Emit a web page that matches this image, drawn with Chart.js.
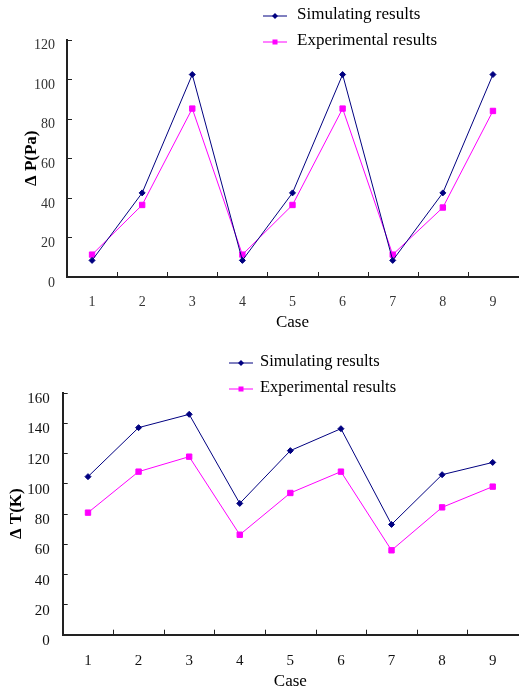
<!DOCTYPE html>
<html>
<head>
<meta charset="utf-8">
<script src="https://cdn.jsdelivr.net/npm/chart.js@4"></script>
<style>
  body { margin: 0; background: #fff; }
  #wrap { position: relative; width: 523px; height: 692px; overflow: hidden; }
  .box { position: absolute; left: 0; width: 523px; }
  .legend { position: absolute; font-family: 'Liberation Serif', 'Times New Roman', serif; color: #000; }
  .legend .item { position: absolute; left: 0; height: 20px; white-space: nowrap; display: flex; align-items: center; }
  .legend .item span { position: relative; top: -2px; }
</style>
</head>
<body>
<div id="wrap">
  <div class="box" style="top:0;height:335px"><canvas id="pressure" width="523" height="335"></canvas></div>
  <div class="legend" id="legend1" style="left:263px;top:0;font-size:17px"></div>
  <div class="box" style="top:340px;height:352px"><canvas id="temperature" width="523" height="352"></canvas></div>
  <div class="legend" id="legend2" style="left:229px;top:340px;font-size:16.5px"></div>
</div>
<script>
const NAVY = '#000080';
const MAGENTA = '#ff00ff';
const SERIF = "'Liberation Serif', 'Times New Roman', serif";

const cases = ['1', '2', '3', '4', '5', '6', '7', '8', '9'];

const pressureSim = [8.4, 42.5, 102.3, 8.4, 42.5, 102.3, 8.4, 42.5, 102.3];
const pressureExp = [11.3, 36.4, 85.1, 11.3, 36.4, 85.1, 11.3, 35.1, 83.9];
const pressureTicks = [0, 20, 40, 60, 80, 100, 120];

const tempSim = [104.5, 136.9, 145.7, 86.8, 121.7, 136.2, 72.9, 105.8, 113.9];
const tempExp = [80.7, 107.8, 117.7, 66.1, 93.7, 107.8, 55.8, 84.2, 97.9];
const tempTicks = [0, 20, 40, 60, 80, 100, 120, 140, 160];

// small tick marks pointing into the plot
const innerTicks = {
  id: 'innerTicks',
  afterDraw(chart) {
    const { ctx, chartArea: a, scales: { x, y } } = chart;
    ctx.save();
    ctx.strokeStyle = '#222';
    ctx.lineWidth = 1;
    ctx.beginPath();
    y.ticks.forEach((t, i) => {
      const py = Math.round(y.getPixelForTick(i)) + 0.5;
      ctx.moveTo(a.left, py);
      ctx.lineTo(a.left + 5, py);
    });
    for (let i = 1; i < x.ticks.length; i++) {
      const px = Math.round((x.getPixelForTick(i - 1) + x.getPixelForTick(i)) / 2) + 0.5;
      ctx.moveTo(px, a.bottom);
      ctx.lineTo(px, a.bottom - 5);
    }
    ctx.stroke();
    ctx.restore();
  }
};

function makeChart(id, o) {
  return new Chart(document.getElementById(id), {
    type: 'line',
    data: {
      labels: cases,
      datasets: [
        {
          label: 'Simulating results', data: o.sim,
          borderColor: NAVY, backgroundColor: NAVY, borderWidth: 1, tension: 0,
          pointStyle: 'rectRot', pointRadius: 3, pointBorderWidth: 1
        },
        {
          label: 'Experimental results', data: o.exp,
          borderColor: MAGENTA, backgroundColor: MAGENTA, borderWidth: 1, tension: 0,
          pointStyle: 'rect', pointRadius: 3.8, pointBorderWidth: 1
        }
      ]
    },
    options: {
      responsive: false,
      animation: false,
      layout: { padding: o.pad },
      plugins: { legend: { display: false }, tooltip: { enabled: false } },
      scales: {
        x: {
          offset: true,
          grid: { display: false, drawTicks: false },
          border: { display: true, color: '#222', width: 2 },
          ticks: { color: o.tickColor, padding: 17, font: { family: SERIF, size: o.tickSize } },
          title: { display: true, text: 'Case', color: '#000', padding: { top: 0, bottom: o.xTitlePad }, font: { family: SERIF, size: 17 } },
          afterFit: s => { s.height = o.xh; }
        },
        y: {
          min: o.ticks[0],
          max: o.ticks[o.ticks.length - 1],
          afterBuildTicks: s => { s.ticks = o.ticks.map(v => ({ value: v })); },
          grid: { display: false, drawTicks: false },
          border: { display: true, color: '#222', width: 2 },
          ticks: { color: o.tickColor, padding: o.yPad, labelOffset: o.labelOffset, font: { family: SERIF, size: o.tickSize } },
          title: { display: true, text: o.yTitle, color: '#000', padding: { top: o.yTitlePad, bottom: 0 }, font: { family: SERIF, size: 17, weight: 'bold' } },
          afterFit: s => { s.width = o.yw; }
        }
      }
    },
    plugins: [innerTicks]
  });
}

function marker(style, color) {
  const shape = style === 'rectRot'
    ? `<polygon points="12,2 15,5 12,8 9,5" fill="${color}"/>`
    : `<rect x="9.5" y="2.5" width="5" height="5" fill="${color}"/>`;
  return `<svg width="24" height="10" style="flex:none"><line x1="0" y1="5" x2="24" y2="5" stroke="${color}" stroke-width="1"/>${shape}</svg>`;
}

function htmlLegend(chart, el, rows, gap) {
  el.innerHTML = chart.data.datasets.map((ds, i) =>
    `<div class="item" style="top:${rows[i] - 10}px">${marker(ds.pointStyle, ds.borderColor)}<span style="margin-left:${gap}px">${ds.label}</span></div>`
  ).join('');
}

const c1 = makeChart('pressure', {
  sim: pressureSim, exp: pressureExp, ticks: pressureTicks,
  yTitle: 'Δ P(Pa)', tickColor: '#333', tickSize: 14,
  pad: { top: 39.5, right: 3, left: 0, bottom: 0 },
  xh: 58, yw: 67, yPad: 12, labelOffset: 6, xTitlePad: 2, yTitlePad: 21
});
htmlLegend(c1, document.getElementById('legend1'), [16, 41.7], 10);

const c2 = makeChart('temperature', {
  sim: tempSim, exp: tempExp, ticks: tempTicks,
  yTitle: 'Δ T(K)', tickColor: '#111', tickSize: 15,
  pad: { top: 52.7, right: 1.3, left: 0, bottom: 0 },
  xh: 57.3, yw: 62.7, yPad: 13, labelOffset: 6.5, xTitlePad: 0, yTitlePad: 6.5
});
htmlLegend(c2, document.getElementById('legend2'), [23.3, 49.3], 7);
</script>
</body>
</html>
